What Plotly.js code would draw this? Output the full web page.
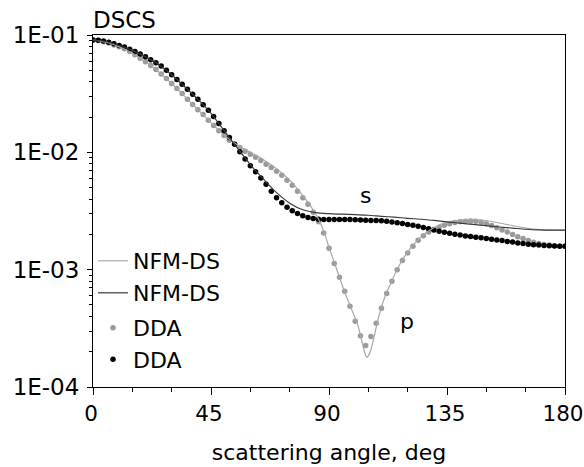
<!DOCTYPE html>
<html>
<head>
<meta charset="utf-8">
<script src="https://cdn.plot.ly/plotly-3.0.1.min.js"></script>
<style>html,body{margin:0;padding:0;background:#fff}#chart{width:584px;height:467px}</style>
</head>
<body>
<div id="chart"></div>
<script>
// scattering angle (deg) for DDA points
const ddaAngle = [0,2,4,6,8,10,12,14,16,18,20,22,24,26,28,30,32,34,36,38,40,42,44,46,48,50,52,54,56,58,60,62,64,66,68,70,72,74,76,78,80,82,84,86,88,90,92,94,96,98,100,102,104,106,108,110,112,114,116,118,120,122,124,126,128,130,132,134,136,138,140,142,144,146,148,150,152,154,156,158,160,162,164,166,168,170,172,174,176,178,180];
// DDA, p polarisation (grey dots)
const ddaP = [0.0906,0.0898,0.0878,0.0855,0.0822,0.0793,0.0764,0.0723,0.0678,0.0633,
  0.0591,0.0549,0.0508,0.0465,0.0425,0.0386,0.0350,0.0317,0.0284,0.0256,
  0.0231,0.0210,0.0188,0.0169,0.0153,0.0139,0.0127,0.0118,0.0110,0.0102,
  0.00965,0.00910,0.00850,0.00793,0.00741,0.00691,0.00639,0.00579,0.00525,0.00467,
  0.00411,0.00361,0.00309,0.00256,0.00205,0.00152,0.00113,0.000861,0.000654,0.000487,
  0.000363,0.000273,0.000226,0.000270,0.000349,0.000468,0.000625,0.000796,0.000998,0.00120,
  0.00139,0.00158,0.00178,0.00195,0.00209,0.00220,0.00230,0.00239,0.00246,0.00252,
  0.00256,0.00259,0.00260,0.00258,0.00253,0.00246,0.00238,0.00228,0.00218,0.00209,
  0.00199,0.00191,0.00184,0.00177,0.00171,0.00167,0.00164,0.00162,0.00160,0.00159,
  0.00158];
// DDA, s polarisation (black dots)
const ddaS = [0.0906,0.0901,0.0889,0.0866,0.0841,0.0813,0.0790,0.0757,0.0722,0.0688,
  0.0652,0.0614,0.0579,0.0544,0.0500,0.0458,0.0417,0.0380,0.0345,0.0313,
  0.0283,0.0255,0.0228,0.0202,0.0176,0.0153,0.0134,0.0117,0.0101,0.00878,
  0.00770,0.00682,0.00605,0.00535,0.00467,0.00411,0.00372,0.00341,0.00318,0.00301,
  0.00288,0.00279,0.00273,0.00269,0.00268,0.00268,0.00268,0.00268,0.00268,0.00267,
  0.00266,0.00265,0.00264,0.00263,0.00262,0.00261,0.00259,0.00255,0.00251,0.00247,
  0.00243,0.00239,0.00235,0.00229,0.00223,0.00218,0.00213,0.00208,0.00204,0.00200,
  0.00197,0.00194,0.00192,0.00189,0.00187,0.00184,0.00182,0.00179,0.00177,0.00174,
  0.00172,0.00169,0.00167,0.00165,0.00163,0.00162,0.00161,0.00160,0.00159,0.00158,
  0.00158];
// NFM-DS, p polarisation (light grey line)
const nfmPAngle = [0,5,10,15,20,25,30,35,40,45,50,55,60,65,70,75,80,85,88,90,92,94,96,98,100,101,102,103,104,104.5,105,106,107,108,109,110,112,114,116,118,120,123,126,130,135,140,145,150,155,160,165,170,175,180];
const nfmP = [0.0906,0.0868,0.0793,0.0702,0.0591,0.0486,0.0386,0.0300,0.0231,0.0179,0.0140,0.0116,0.0100,0.00866,0.00726,0.00579,0.00427,0.00297,
  0.00213,0.00155,0.00116,0.000861,0.000641,0.000497,0.000385,
  0.000335,0.000276,0.000222,0.000186,0.000179,0.000184,0.000209,0.000255,0.000323,0.000400,0.000478,
  0.000641,0.000804,0.00101,0.00121,0.00142,
  0.00171,0.00199,0.00228,0.00254,0.00265,0.00268,0.00261,0.00250,0.00237,0.00226,0.00220,0.00217,0.00217];
// NFM-DS, s polarisation (dark line)
const nfmSAngle = [0,5,10,15,20,25,30,35,40,45,50,55,60,65,70,75,80,85,90,95,100,105,110,115,120,125,130,135,140,145,150,155,160,165,170,175,180];
const nfmS = [0.0906,0.0880,0.0813,0.0739,0.0652,0.0561,0.0458,0.0362,0.0283,0.0215,0.0153,0.0109,0.00786,0.00591,0.00453,0.00369,0.00324,0.00306,0.00300,0.00297,0.00294,0.00291,0.00285,0.00280,0.00274,0.00269,0.00263,0.00255,0.00249,0.00243,0.00237,0.00231,0.00226,0.00221,0.00218,0.00217,0.00217];

const xTickVals = [0,45,90,135,180];
const xTickText = ['0','45','90','135','180'];
const xMinorVals = [15,30,60,75,105,120,150,165];
const yTickVals = [1e-4,1e-3,1e-2,1e-1];
const yTickText = ['1E-04','1E-03','1E-02','1E-01'];
const yMinorVals = [];
for (let e = -4; e < -1; e++) for (let m = 2; m <= 9; m++) yMinorVals.push(m * Math.pow(10, e));

const FONT = 'DejaVu Sans, Arial, sans-serif';

const traces = [
  {x: ddaAngle, y: ddaP, mode: 'markers', name: 'DDA', legend: 'legend3',
   marker: {color: '#9a9a9a', size: 5.5}},
  {x: ddaAngle, y: ddaS, mode: 'markers', name: 'DDA', legend: 'legend4',
   marker: {color: '#000000', size: 5.5}},
  {x: nfmPAngle, y: nfmP, mode: 'lines', name: 'NFM-DS', legend: 'legend',
   line: {color: '#a8a8a8', width: 1.2, shape: 'spline', smoothing: 0.8}},
  {x: nfmSAngle, y: nfmS, mode: 'lines', name: 'NFM-DS', legend: 'legend2',
   line: {color: '#3a3a3a', width: 1.2, shape: 'spline', smoothing: 0.8}}
];

function leg(yc) {
  return {x: 0.0, xanchor: 'left', y: yc, yanchor: 'middle',
          bgcolor: 'rgba(0,0,0,0)', borderwidth: 0,
          font: {family: FONT, size: 22, color: '#000'}};
}

const layout = {
  width: 584, height: 467,
  margin: {l: 93, r: 19, t: 35, b: 80},
  paper_bgcolor: '#fff', plot_bgcolor: '#fff',
  font: {family: FONT, size: 22, color: '#000'},
  showlegend: true,
  title: {text: 'DSCS', x: 0, xref: 'paper', xanchor: 'left', y: 1, yref: 'paper', yanchor: 'bottom',
          pad: {b: 7}, font: {family: FONT, size: 23, color: '#000'}},
  xaxis: {
    range: [0, 180], showgrid: false, zeroline: false,
    showline: true, linecolor: '#000', linewidth: 1, mirror: true,
    tickmode: 'array', tickvals: xTickVals, ticktext: xTickText,
    ticks: 'outside', ticklen: 7, tickcolor: '#000', tickwidth: 1,
    ticklabeloverflow: 'allow', ticklabelshift: -2,
    minor: {tickmode: 'array', tickvals: xMinorVals, ticks: 'outside', ticklen: 3.5, tickcolor: '#000', tickwidth: 1, showgrid: false},
    tickfont: {family: FONT, size: 21.5, color: '#000'},
    title: {text: 'scattering angle, deg', standoff: 19, font: {family: FONT, size: 22, color: '#000'}}
  },
  yaxis: {
    type: 'log', range: [-4, -1], showgrid: false, zeroline: false,
    showline: true, linecolor: '#000', linewidth: 1, mirror: true,
    tickmode: 'array', tickvals: yTickVals, ticktext: yTickText,
    ticks: 'outside', ticklen: 5, tickcolor: '#000', tickwidth: 1,
    ticklabelstandoff: 3,
    minor: {tickmode: 'array', tickvals: yMinorVals, ticks: 'outside', ticklen: 3, tickcolor: '#000', tickwidth: 1, showgrid: false},
    tickfont: {family: FONT, size: 23, color: '#000'}
  },
  legend: leg(0.358),
  legend2: leg(0.267),
  legend3: leg(0.168),
  legend4: leg(0.078),
  annotations: [
    {text: 's', x: 104.1, y: Math.log10(0.00431), xref: 'x', yref: 'y', showarrow: false,
     xanchor: 'center', yanchor: 'middle', font: {family: FONT, size: 22, color: '#000'}},
    {text: 'p', x: 119.6, y: Math.log10(0.000360), xref: 'x', yref: 'y', showarrow: false,
     xanchor: 'center', yanchor: 'middle', font: {family: FONT, size: 22, color: '#000'}}
  ]
};

Plotly.newPlot('chart', traces, layout, {displayModeBar: false, staticPlot: true});
</script>
</body>
</html>
